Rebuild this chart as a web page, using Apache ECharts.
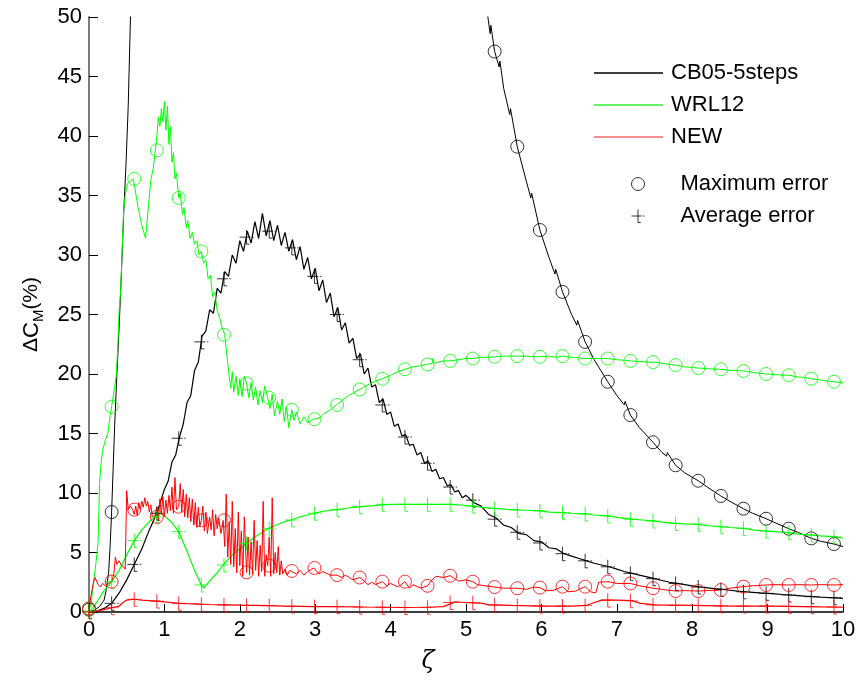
<!DOCTYPE html>
<html><head><meta charset="utf-8">
<script src="https://cdn.jsdelivr.net/npm/echarts@6/dist/echarts.min.js"></script>
<style>html,body{margin:0;padding:0;background:#fff}#c{width:859px;height:684px}</style>
</head><body><div id="c"></div>
<script>
// ---------- data ----------
const xTicks = [0,1,2,3,4,5,6,7,8,9,10];
const yTicks = [0,5,10,15,20,25,30,35,40,45,50];

// x positions of the markers (every ~0.3)
const markerX = [0,0.3,0.6,0.9,1.19,1.49,1.79,2.09,2.39,2.69,2.99,3.29,3.59,3.89,4.19,4.49,4.79,5.09,5.38,5.68,5.98,6.28,6.58,6.88,7.18,7.48,7.78,8.08,8.38,8.68,8.98,9.28,9.58,9.88];

// marker values (circles = maximum error, plus = average error)
const cbMaxMarks  = [0.2,8.4,null,null,null,null,null,null,null,null,null,null,null,null,null,null,null,null,47.1,39.1,32.1,26.9,22.7,19.35,16.55,14.26,12.33,11.03,9.75,8.68,7.84,7.0,6.19,5.71];
const cbAvgMarks  = [0.05,0.73,4.0,8.3,14.6,22.7,28.0,31.5,32.0,30.6,28.2,25.0,21.2,17.4,14.7,12.5,10.5,9.4,7.8,6.7,5.8,4.9,4.3,3.8,3.25,2.8,2.4,2.1,1.9,1.7,1.57,1.43,1.29,1.2];
const wrlMaxMarks = [0.3,17.25,36.4,38.8,34.8,30.3,23.3,19.2,18.0,17.0,16.2,17.4,18.7,19.6,20.4,20.8,21.1,21.3,21.45,21.5,21.45,21.5,21.3,21.3,21.1,21.0,20.75,20.5,20.4,20.25,20.0,19.9,19.6,19.35];
const wrlAvgMarks = [0.05,2.55,6.0,8.0,6.75,2.27,3.95,5.77,7.0,7.73,8.3,8.6,8.85,9.05,9.05,9.05,9.05,8.9,8.7,8.57,8.5,8.35,8.24,8.07,7.8,7.65,7.45,7.37,7.17,7.03,6.8,6.67,6.47,6.33];
const newMaxMarks = [0.3,2.55,8.6,8.0,8.85,7.7,7.7,3.33,3.9,3.45,3.7,3.1,2.9,2.55,2.55,2.2,3.05,2.55,2.1,2.0,2.05,2.13,2.13,2.55,2.4,2.0,1.76,1.76,1.85,2.13,2.27,2.27,2.27,2.27];
const newAvgMarks = [0,0.36,1.07,0.92,0.73,0.65,0.6,0.56,0.53,0.5,0.46,0.45,0.42,0.4,0.38,0.4,0.8,0.78,0.6,0.55,0.5,0.5,0.55,1.0,0.95,0.6,0.55,0.55,0.52,0.5,0.5,0.48,0.45,0.42];

// full curves [x, y]
const cbMaxLine = [[0,0],[0.07,0.15],[0.14,0.45],[0.2,1.0],[0.23,1.9],[0.26,3.3],[0.28,5.5],[0.3,8.4],[0.32,12],[0.34,15.6],[0.37,20],[0.4,24],[0.43,28.5],[0.46,33.5],[0.49,37.5],[0.52,42.5],[0.55,50],[0.6,58],
  [5.2,58],[5.25,53],[5.29,50],[5.32,48.6],[5.33,49.3],[5.38,47.1],[5.44,45.8],[5.45,46.3],[5.5,44],[5.58,41.8],[5.59,42.3],[5.68,39.1],[5.8,36.2],[5.86,34.8],[5.87,35.2],[5.98,32.1],[6.1,29.8],[6.18,28.4],[6.19,28.8],[6.28,26.9],[6.4,25],[6.47,24.1],[6.48,24.5],[6.58,22.7],[6.7,21.2],[6.88,19.35],[7.0,18.2],[7.1,17.4],[7.11,17.7],[7.18,16.55],[7.3,15.5],[7.48,14.26],[7.6,13.4],[7.66,13.1],[7.67,13.4],[7.78,12.33],[7.9,11.7],[8.08,11.03],[8.2,10.5],[8.38,9.75],[8.5,9.3],[8.68,8.68],[8.8,8.3],[8.98,7.84],[9.1,7.5],[9.28,7.0],[9.4,6.7],[9.58,6.19],[9.7,5.95],[9.88,5.71],[10,5.5]];

const cbAvgLine = [[0,0],[0.1,0.05],[0.2,0.3],[0.3,0.73],[0.4,1.6],[0.5,2.7],[0.6,4.0],[0.7,5.3],[0.8,6.9],[0.9,8.3],[1.0,10.3],[1.05,11.0],[1.1,12.6],[1.15,13.2],[1.2,14.7],[1.25,15.8],[1.3,17.6],[1.35,18.2],[1.4,20.3],[1.45,21.0],[1.5,23.2],[1.55,23.6],[1.6,25.4],[1.65,25.1],[1.7,27.2],[1.75,26.8],[1.8,28.6],[1.85,28.2],[1.9,30.0],[1.95,29.3],[2.0,31.2],[2.05,30.3],[2.1,32.0],[2.15,31.0],[2.2,32.8],[2.25,31.4],[2.3,33.5],[2.35,31.6],[2.4,32.9],[2.45,31.2],[2.5,32.5],[2.55,30.8],[2.6,31.9],[2.65,30.3],[2.7,31.3],[2.75,29.6],[2.8,30.7],[2.85,28.8],[2.9,29.8],[2.95,28.0],[3.0,28.9],[3.05,27.0],[3.1,27.9],[3.15,26.0],[3.2,26.8],[3.25,24.8],[3.3,25.6],[3.35,23.7],[3.4,24.3],[3.45,22.6],[3.5,23.0],[3.55,21.3],[3.6,21.7],[3.65,20.0],[3.7,20.5],[3.75,18.9],[3.8,19.1],[3.85,17.6],[3.9,17.9],[3.95,16.6],[4.0,16.8],[4.05,15.6],[4.1,15.8],[4.15,14.8],[4.2,14.9],[4.25,14.0],[4.3,14.1],[4.35,13.2],[4.4,13.4],[4.45,12.5],[4.5,12.7],[4.55,11.8],[4.6,12.0],[4.65,11.2],[4.7,11.3],[4.75,10.6],[4.8,10.7],[4.85,10.1],[4.9,10.2],[4.95,9.6],[5.0,9.8],[5.1,9.2],[5.2,8.9],[5.3,8.2],[5.4,7.9],[5.5,7.3],[5.6,7.1],[5.7,6.6],[5.8,6.5],[5.9,6.0],[6.0,5.9],[6.1,5.4],[6.2,5.3],[6.3,4.9],[6.4,4.7],[6.5,4.5],[6.6,4.3],[6.7,4.1],[6.8,3.95],[6.9,3.8],[7.0,3.6],[7.1,3.4],[7.2,3.25],[7.3,3.1],[7.4,2.95],[7.5,2.8],[7.6,2.65],[7.7,2.5],[7.8,2.4],[7.9,2.3],[8.0,2.2],[8.1,2.1],[8.2,2.03],[8.3,1.96],[8.4,1.9],[8.5,1.83],[8.6,1.76],[8.7,1.7],[8.8,1.65],[8.9,1.6],[9.0,1.56],[9.1,1.52],[9.2,1.47],[9.3,1.43],[9.4,1.38],[9.5,1.33],[9.6,1.29],[9.7,1.25],[9.8,1.22],[9.9,1.19],[10,1.15]];

const wrlMaxLine = [[0,0.1],[0.03,0.75],[0.06,2.5],[0.09,4.0],[0.12,5.8],[0.14,10.8],[0.16,12.5],[0.18,13.6],[0.22,14.5],[0.25,15.0],[0.28,16.5],[0.3,17.25],[0.33,18.5],[0.36,19.8],[0.38,22],[0.4,25.4],[0.42,27],[0.44,30.5],[0.46,33.8],[0.48,35.0],[0.51,36.0],[0.55,36.2],[0.58,36.4],[0.6,36.0],[0.65,34.0],[0.7,32.5],[0.75,31.4],[0.78,33.5],[0.82,36.3],[0.85,37.2],[0.88,38.8],[0.9,40.0],[0.92,41.6],[0.94,40.8],[0.96,42.3],[0.98,41.2],[1.0,42.9],[1.02,40.5],[1.04,42.5],[1.06,39.3],[1.08,40.8],[1.1,37.8],[1.12,38.6],[1.14,36.4],[1.16,36.9],[1.19,34.8],[1.21,35.2],[1.24,33.4],[1.26,34.0],[1.29,32.3],[1.31,32.9],[1.34,31.4],[1.37,31.9],[1.4,30.9],[1.43,31.2],[1.46,30.0],[1.49,30.3],[1.52,29.3],[1.55,29.6],[1.58,28.0],[1.61,28.3],[1.64,26.5],[1.67,26.9],[1.7,25.3],[1.73,24.8],[1.76,24.0],[1.8,23.3],[1.83,21.5],[1.86,19.8],[1.88,18.8],[1.9,20.2],[1.92,18.5],[1.95,19.8],[1.98,18.2],[2.0,19.6],[2.03,18.1],[2.06,19.8],[2.09,19.2],[2.12,18.0],[2.15,19.3],[2.18,17.8],[2.21,18.9],[2.24,17.4],[2.27,18.6],[2.3,17.6],[2.33,19.0],[2.37,18.0],[2.4,17.1],[2.43,18.3],[2.46,16.5],[2.5,17.7],[2.53,16.6],[2.56,17.9],[2.59,16.0],[2.62,17.2],[2.65,15.5],[2.69,17.0],[2.72,16.1],[2.75,16.8],[2.8,15.8],[2.85,16.4],[2.9,15.9],[2.95,16.1],[2.98,16.2],[3.05,16.3],[3.1,16.6],[3.2,17.0],[3.28,17.4],[3.4,18.0],[3.5,18.4],[3.59,18.7],[3.7,19.1],[3.8,19.4],[3.89,19.6],[4.0,19.9],[4.1,20.2],[4.19,20.4],[4.3,20.6],[4.4,20.7],[4.48,20.8],[4.55,20.9],[4.56,21.3],[4.57,20.9],[4.7,21.1],[4.78,21.1],[4.9,21.2],[5.0,21.3],[5.08,21.3],[5.2,21.4],[5.3,21.4],[5.38,21.45],[5.5,21.5],[5.6,21.5],[5.68,21.5],[5.8,21.5],[5.9,21.45],[5.98,21.45],[6.1,21.5],[6.2,21.4],[6.28,21.5],[6.4,21.4],[6.5,21.35],[6.58,21.3],[6.7,21.3],[6.8,21.3],[6.88,21.3],[7.0,21.2],[7.1,21.15],[7.18,21.1],[7.3,21.05],[7.4,21.0],[7.48,21.0],[7.6,20.9],[7.7,20.8],[7.78,20.75],[7.9,20.6],[8.0,20.55],[8.08,20.5],[8.2,20.45],[8.3,20.4],[8.38,20.4],[8.5,20.3],[8.6,20.3],[8.68,20.25],[8.8,20.15],[8.9,20.05],[8.98,20.0],[9.1,19.95],[9.2,19.9],[9.28,19.9],[9.4,19.75],[9.5,19.7],[9.58,19.6],[9.7,19.5],[9.8,19.4],[9.88,19.35],[10,19.25]];

const wrlAvgLine = [[0,0],[0.05,0.3],[0.1,0.8],[0.15,1.3],[0.2,1.8],[0.3,2.55],[0.4,3.5],[0.5,4.8],[0.6,6.0],[0.7,6.9],[0.8,7.6],[0.9,8.1],[0.95,8.3],[1.0,8.1],[1.1,7.5],[1.19,6.75],[1.3,5.1],[1.4,3.5],[1.49,2.27],[1.52,2.0],[1.6,2.6],[1.7,3.3],[1.78,3.95],[1.9,4.8],[2.0,5.3],[2.09,5.77],[2.2,6.3],[2.3,6.7],[2.37,7.0],[2.5,7.35],[2.6,7.6],[2.68,7.73],[2.8,8.0],[2.9,8.15],[2.99,8.3],[3.1,8.45],[3.2,8.55],[3.29,8.6],[3.4,8.7],[3.5,8.8],[3.6,8.85],[3.7,8.9],[3.8,8.95],[3.9,9.0],[4.0,9.05],[4.2,9.05],[4.4,9.05],[4.6,9.05],[4.8,9.05],[5.0,8.95],[5.09,8.9],[5.2,8.8],[5.39,8.7],[5.5,8.65],[5.69,8.57],[5.8,8.55],[5.99,8.5],[6.1,8.4],[6.28,8.35],[6.4,8.3],[6.6,8.24],[6.7,8.15],[6.88,8.07],[7.0,7.95],[7.19,7.8],[7.3,7.75],[7.48,7.65],[7.6,7.55],[7.78,7.45],[7.9,7.4],[8.08,7.37],[8.2,7.25],[8.38,7.17],[8.5,7.1],[8.68,7.03],[8.8,6.9],[8.98,6.8],[9.1,6.75],[9.28,6.67],[9.4,6.55],[9.58,6.47],[9.7,6.4],[9.88,6.33],[10,6.2]];

const newMaxLine = [[0,0.3],[0.03,1.5],[0.06,2.5],[0.08,2.9],[0.1,2.6],[0.12,2.3],[0.15,2.1],[0.18,2.4],[0.22,2.2],[0.26,2.4],[0.3,2.55],[0.33,3.2],[0.35,4.6],[0.37,4.0],[0.4,4.3],[0.43,3.9],[0.46,3.8],[0.48,3.6],[0.5,10.2],[0.52,8.6],[0.55,8.9],[0.58,8.6],[0.6,8.2],[0.62,8.9],[0.64,8.1],[0.66,9.2],[0.68,8.6],[0.7,9.3],[0.72,8.8],[0.74,9.6],[0.76,8.9],[0.78,9.3],[0.8,8.4],[0.82,9.0],[0.84,8.0],[0.87,8.0],[0.9,8.8],[0.92,7.7],[0.94,9.5],[0.96,8.2],[0.98,9.7],[1.0,8.0],[1.02,9.4],[1.04,8.3],[1.06,9.8],[1.08,8.5],[1.1,10.5],[1.12,8.3],[1.14,11.3],[1.16,8.6],[1.19,8.85],[1.21,10.8],[1.23,8.4],[1.25,10.3],[1.27,8.0],[1.29,9.9],[1.31,7.9],[1.33,9.6],[1.35,7.6],[1.37,9.5],[1.39,7.3],[1.41,9.2],[1.43,7.1],[1.45,8.8],[1.47,7.2],[1.49,7.7],[1.51,8.9],[1.53,6.8],[1.55,8.4],[1.57,6.6],[1.6,8.0],[1.62,6.9],[1.64,8.6],[1.66,6.4],[1.68,8.2],[1.7,7.0],[1.72,7.9],[1.75,6.6],[1.78,7.7],[1.8,5.5],[1.82,9.9],[1.84,4.6],[1.86,7.6],[1.88,4.0],[1.9,9.3],[1.92,3.8],[1.94,7.0],[1.96,3.3],[1.98,8.4],[2.0,3.9],[2.02,6.8],[2.04,3.0],[2.06,8.0],[2.09,3.33],[2.11,6.3],[2.13,3.1],[2.15,5.9],[2.17,3.2],[2.19,7.7],[2.21,3.5],[2.23,6.0],[2.25,3.0],[2.27,5.6],[2.29,3.4],[2.31,9.3],[2.33,3.0],[2.35,4.8],[2.37,3.9],[2.39,6.3],[2.41,3.0],[2.43,9.6],[2.45,3.2],[2.47,5.0],[2.49,3.3],[2.51,5.5],[2.53,3.1],[2.55,4.3],[2.57,3.2],[2.6,3.6],[2.63,3.1],[2.66,3.5],[2.69,3.4],[2.75,3.2],[2.8,3.5],[2.85,3.1],[2.9,3.4],[2.98,3.7],[3.05,3.2],[3.1,3.4],[3.2,3.1],[3.29,3.1],[3.35,2.9],[3.4,3.1],[3.5,2.7],[3.59,2.9],[3.65,2.6],[3.7,2.3],[3.75,2.5],[3.8,2.3],[3.89,2.55],[3.95,2.2],[4.0,2.4],[4.1,2.1],[4.19,2.55],[4.25,2.0],[4.3,2.3],[4.4,2.0],[4.49,2.2],[4.55,2.7],[4.6,3.0],[4.7,2.9],[4.79,3.05],[4.85,2.8],[4.9,2.6],[5.0,2.7],[5.09,2.55],[5.15,2.3],[5.25,2.2],[5.38,2.1],[5.5,2.0],[5.6,2.0],[5.68,2.0],[5.8,1.9],[5.9,2.1],[5.98,2.05],[6.05,1.8],[6.15,1.8],[6.28,2.13],[6.35,1.7],[6.45,1.75],[6.58,2.13],[6.65,1.7],[6.72,1.6],[6.76,2.5],[6.88,2.55],[7.0,2.4],[7.18,2.4],[7.3,2.2],[7.48,2.0],[7.6,1.9],[7.78,1.76],[7.9,1.8],[8.08,1.76],[8.2,1.8],[8.38,1.85],[8.5,2.0],[8.68,2.13],[8.8,2.2],[8.98,2.27],[9.1,2.3],[9.28,2.27],[9.4,2.3],[9.58,2.27],[9.7,2.3],[9.88,2.27],[10,2.3]];

const newAvgLine = [[0,0],[0.1,0.1],[0.2,0.2],[0.3,0.36],[0.4,0.5],[0.45,0.8],[0.5,1.0],[0.6,1.07],[0.7,1.0],[0.8,0.95],[0.9,0.92],[1.0,0.85],[1.1,0.8],[1.19,0.73],[1.3,0.7],[1.4,0.68],[1.5,0.65],[1.6,0.63],[1.8,0.6],[2.0,0.57],[2.2,0.55],[2.4,0.53],[2.6,0.5],[2.8,0.48],[3.0,0.46],[3.3,0.45],[3.6,0.42],[3.9,0.4],[4.2,0.38],[4.5,0.4],[4.7,0.45],[4.8,0.7],[4.85,0.85],[5.0,0.8],[5.2,0.75],[5.3,0.6],[5.6,0.55],[6.0,0.5],[6.4,0.5],[6.6,0.55],[6.7,0.8],[6.8,1.0],[7.0,1.0],[7.2,0.95],[7.3,0.75],[7.5,0.6],[8.0,0.55],[8.5,0.5],[9.0,0.5],[9.5,0.45],[10,0.4]];

const legendLines = ['CB05-5steps','WRL12','NEW'];
const legendMarks = ['Maximum error','Average error'];

// ---------- chart ----------
const FONT = 'Liberation Sans, Arial, sans-serif';
const BLACK = '#000000', GREEN = '#00ff00', RED = '#ff0000';
const PLUS = 'path://M10,3L10,17L13,17M3,10L14,10M15.5,10L17,10';

function marks(ys){ return markerX.map((x,i)=>[x, ys[i]]).filter(d=>d[1]!==null); }
function lineSeries(name, data, color, w){
  return {type:'line', name, data, color, showSymbol:false, symbol:'none', clip:true,
    lineStyle:{color, width:w||1}, itemStyle:{color}, animation:false, silent:true};
}
function markSeries(name, ys, color, sym, size){
  return {type:'scatter', name, data:marks(ys), symbol:sym, symbolSize:size, clip:true, z:5,
    itemStyle:{color:'rgba(0,0,0,0)', borderColor:color, borderWidth:1}, animation:false, silent:true};
}

const chart = echarts.init(document.getElementById('c'), null, {renderer:'canvas'});
chart.setOption({
  backgroundColor:'#ffffff',
  animation:false,
  textStyle:{fontFamily:FONT},
  grid:{left:89, right:16, top:17, bottom:72, containLabel:false},
  xAxis:{type:'value', min:xTicks[0], max:xTicks[xTicks.length-1], interval:1,
    name:'ζ', nameLocation:'middle', nameGap:38,
    nameTextStyle:{fontSize:24, fontStyle:'italic', color:'#000', fontFamily:'DejaVu Serif, serif', padding:[0,76,0,0]},
    axisLine:{onZero:false, lineStyle:{color:'#000', width:1.5}},
    axisTick:{inside:true, length:8, lineStyle:{color:'#000'}},
    axisLabel:{fontSize:22, color:'#000', margin:7, fontFamily:FONT},
    splitLine:{show:false}},
  yAxis:{type:'value', min:yTicks[0], max:yTicks[yTicks.length-1], interval:5,
    name:'{d|Δ}{c|C}{m|M}{p|(%)}', nameLocation:'middle', nameRotate:90, nameGap:41,
    nameTextStyle:{color:'#000', rich:{
      d:{fontSize:21, fontFamily:FONT, lineHeight:30, verticalAlign:'middle'},
      c:{fontSize:22, fontFamily:FONT, lineHeight:30, verticalAlign:'middle'},
      m:{fontSize:15, fontFamily:FONT, lineHeight:30, verticalAlign:'bottom'},
      p:{fontSize:21, fontFamily:FONT, lineHeight:30, verticalAlign:'middle'}}},
    axisLine:{onZero:false, lineStyle:{color:'#7a7a7a', width:2}},
    axisTick:{inside:true, length:9, lineStyle:{color:'#000'}},
    axisLabel:{fontSize:22, color:'#000', margin:7, fontFamily:FONT},
    splitLine:{show:false}},
  legend:[
    {data:[{name:legendLines[0], icon:'rect', itemStyle:{color:BLACK}},
           {name:legendLines[1], icon:'rect', itemStyle:{color:'#33ee33'}},
           {name:legendLines[2], icon:'rect', itemStyle:{color:'#f46a6a'}}],
     orient:'vertical', left:594, top:62, padding:0, itemWidth:69, itemHeight:1.5, itemGap:10,
     selectedMode:false, textStyle:{fontSize:22, color:'#000', lineHeight:22, fontFamily:FONT, padding:[0,0,0,3]}},
    {data:[{name:legendMarks[0], icon:'circle', itemStyle:{color:'rgba(0,0,0,0)', borderColor:'#000', borderWidth:1}},
           {name:legendMarks[1], icon:PLUS, itemStyle:{color:'rgba(0,0,0,0)', borderColor:'#000', borderWidth:1}}],
     orient:'vertical', left:631, top:173, padding:0, itemWidth:13, itemHeight:13, itemGap:10,
     selectedMode:false, textStyle:{fontSize:22, color:'#000', lineHeight:22, fontFamily:FONT, padding:[0,0,0,31]}}
  ],
  series:[
    lineSeries(legendLines[0], cbMaxLine, BLACK, 1),
    lineSeries(legendLines[0], cbAvgLine, BLACK, 1.2),
    lineSeries(legendLines[1], wrlMaxLine, GREEN, 1),
    lineSeries(legendLines[1], wrlAvgLine, GREEN, 1.2),
    lineSeries(legendLines[2], newMaxLine, RED, 1),
    lineSeries(legendLines[2], newAvgLine, RED, 1.2),
    markSeries(legendMarks[0], cbMaxMarks, BLACK, 'circle', 13),
    markSeries(legendMarks[1], cbAvgMarks, BLACK, PLUS, 14),
    markSeries(legendMarks[0], wrlMaxMarks, GREEN, 'circle', 13),
    markSeries(legendMarks[1], wrlAvgMarks, GREEN, PLUS, 14),
    markSeries(legendMarks[0], newMaxMarks, RED, 'circle', 13),
    markSeries(legendMarks[1], newAvgMarks, RED, PLUS, 14)
  ]
});
</script></body></html>
